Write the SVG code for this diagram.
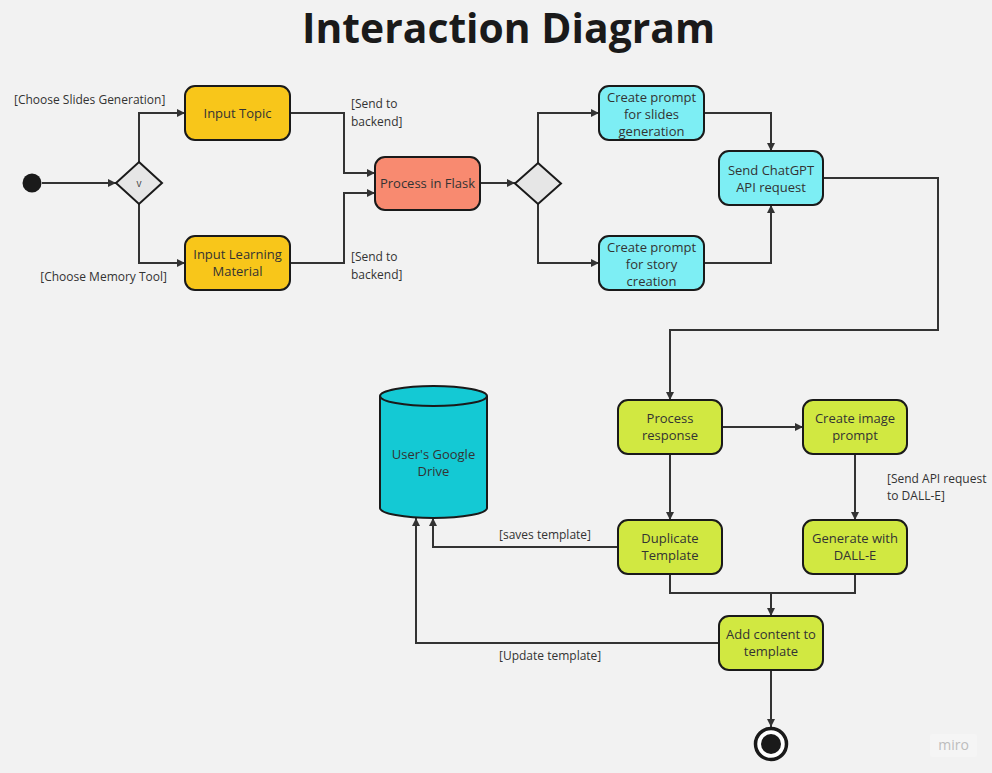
<svg xmlns="http://www.w3.org/2000/svg" width="992" height="773" viewBox="0 0 992 773">
<defs>
<marker id="arr" viewBox="0 0 10 10" refX="10" refY="5" markerWidth="8" markerHeight="8" markerUnits="userSpaceOnUse" orient="auto">
<path d="M0,0 L10,5 L0,10 z" fill="#333"/>
</marker>
<style>
.bg{fill:#f2f2f2}
.node{stroke:#1a1a1a;stroke-width:2}
.gold{fill:#f8c61a}
.salmon{fill:#f88a70}
.cyan{fill:#7deef4}
.lime{fill:#d1e841}
.t{font-family:"Open Sans","Noto Sans","DejaVu Sans",sans-serif;font-size:13px;fill:#333;text-anchor:middle}
.lbl{font-family:"Open Sans","Noto Sans","DejaVu Sans",sans-serif;font-size:12px;fill:#333}
.c{fill:none;stroke:#333;stroke-width:2}
.a{marker-end:url(#arr)}
</style>
</defs>
<rect class="bg" x="0" y="0" width="992" height="773"/>
<text x="508.5" y="43" font-family="'Open Sans','Noto Sans','DejaVu Sans',sans-serif" font-size="42" font-weight="bold" fill="#1a1a1a" text-anchor="middle" textLength="413" lengthAdjust="spacingAndGlyphs">Interaction Diagram</text>

<g id="connectors">
<path class="c a" d="M42,183 H116"/>
<path class="c a" d="M139,162 V113 H185"/>
<path class="c a" d="M139,204 V263 H185"/>
<path class="c a" d="M290,113 H344 V173 H375"/>
<path class="c a" d="M290,263 H344 V193 H375"/>
<path class="c a" d="M480,183 H515"/>
<path class="c a" d="M538,163 V113 H599"/>
<path class="c a" d="M538,204 V263 H599"/>
<path class="c a" d="M704,113 H771 V151"/>
<path class="c a" d="M704,263 H771 V205"/>
<path class="c a" d="M823,178 H938 V330 H670 V400"/>
<path class="c a" d="M722,427 H803"/>
<path class="c a" d="M670,454 V520"/>
<path class="c a" d="M855,454 V520"/>
<path class="c a" d="M618,547 H433 V518"/>
<path class="c" d="M670,574 V593 H855 V574"/>
<path class="c a" d="M771,593 V616"/>
<path class="c a" d="M719,643 H416 V518"/>
<path class="c a" d="M771,670 V727"/>
<text class="lbl" x="14" y="104">[Choose Slides Generation]</text>
<text class="lbl" x="167" y="281" text-anchor="end">[Choose Memory Tool]</text>
<text class="lbl" x="351" y="108">[Send to</text>
<text class="lbl" x="351" y="126">backend]</text>
<text class="lbl" x="351" y="261">[Send to</text>
<text class="lbl" x="351" y="279">backend]</text>
<text class="lbl" x="887" y="483">[Send API request</text>
<text class="lbl" x="887" y="500">to DALL-E]</text>
<text class="lbl" x="499" y="539">[saves template]</text>
<text class="lbl" x="499" y="660">[Update template]</text>
</g>

<g id="start"><circle cx="32" cy="183" r="9.5" fill="#1a1a1a"/></g>

<g id="decision1">
<polygon class="node" points="139,162 162,183 139,204 116,183" fill="#e6e6e6"/>
<text x="139" y="187" font-family="'Open Sans','Noto Sans',sans-serif" font-size="10" fill="#444" text-anchor="middle">v</text>
</g>

<g id="input-topic">
<rect class="node gold" x="185" y="86" width="105" height="54" rx="10"/>
<text class="t" x="237.5" y="117.5">Input Topic</text>
</g>

<g id="input-learning">
<rect class="node gold" x="185" y="236" width="105" height="54" rx="10"/>
<text class="t" x="237.5" y="258.5">Input Learning</text>
<text class="t" x="237.5" y="275.5">Material</text>
</g>

<g id="process-flask">
<rect class="node salmon" x="375" y="157" width="105" height="53" rx="10"/>
<text class="t" x="427.5" y="188">Process in Flask</text>
</g>

<g id="decision2">
<polygon class="node" points="538,163 561,183.5 538,204 515,183.5" fill="#e6e6e6"/>
</g>

<g id="prompt-slides">
<rect class="node cyan" x="599" y="86" width="105" height="54" rx="10"/>
<text class="t" x="651.5" y="101.5">Create prompt</text>
<text class="t" x="651.5" y="118.5">for slides</text>
<text class="t" x="651.5" y="135.5">generation</text>
</g>

<g id="prompt-story">
<rect class="node cyan" x="599" y="236" width="105" height="54" rx="10"/>
<text class="t" x="651.5" y="251.5">Create prompt</text>
<text class="t" x="651.5" y="268.5">for story</text>
<text class="t" x="651.5" y="285.5">creation</text>
</g>

<g id="send-chatgpt">
<rect class="node cyan" x="719" y="151" width="104" height="54" rx="10"/>
<text class="t" x="771" y="174.5">Send ChatGPT</text>
<text class="t" x="771" y="191.5">API request</text>
</g>

<g id="google-drive">
<path class="node" d="M380,396 V508 A53.5,10 0 0 0 487,508 V396" fill="#14c9d4"/>
<ellipse class="node" cx="433.5" cy="396" rx="53.5" ry="10" fill="#14c9d4"/>
<text class="t" x="433.5" y="459">User's Google</text>
<text class="t" x="433.5" y="476">Drive</text>
</g>

<g id="process-response">
<rect class="node lime" x="618" y="400" width="104" height="54" rx="10"/>
<text class="t" x="670" y="423">Process</text>
<text class="t" x="670" y="440">response</text>
</g>

<g id="create-image-prompt">
<rect class="node lime" x="803" y="400" width="104" height="54" rx="10"/>
<text class="t" x="855" y="423">Create image</text>
<text class="t" x="855" y="440">prompt</text>
</g>

<g id="duplicate-template">
<rect class="node lime" x="618" y="520" width="104" height="54" rx="10"/>
<text class="t" x="670" y="543">Duplicate</text>
<text class="t" x="670" y="560">Template</text>
</g>

<g id="generate-dalle">
<rect class="node lime" x="803" y="520" width="104" height="54" rx="10"/>
<text class="t" x="855" y="543">Generate with</text>
<text class="t" x="855" y="560">DALL-E</text>
</g>

<g id="add-content">
<rect class="node lime" x="719" y="616" width="104" height="54" rx="10"/>
<text class="t" x="771" y="639">Add content to</text>
<text class="t" x="771" y="656">template</text>
</g>

<g id="end">
<circle cx="771" cy="744" r="15.5" fill="#fff" stroke="#1a1a1a" stroke-width="3.5"/>
<circle cx="771" cy="744" r="10" fill="#1a1a1a"/>
</g>

<g id="watermark">
<rect x="930" y="734" width="47" height="23" rx="2" fill="#f5f5f5"/>
<text x="953.5" y="750" font-family="'Open Sans','Noto Sans',sans-serif" font-size="14" fill="#bdbdbd" text-anchor="middle">miro</text>
</g>
</svg>
